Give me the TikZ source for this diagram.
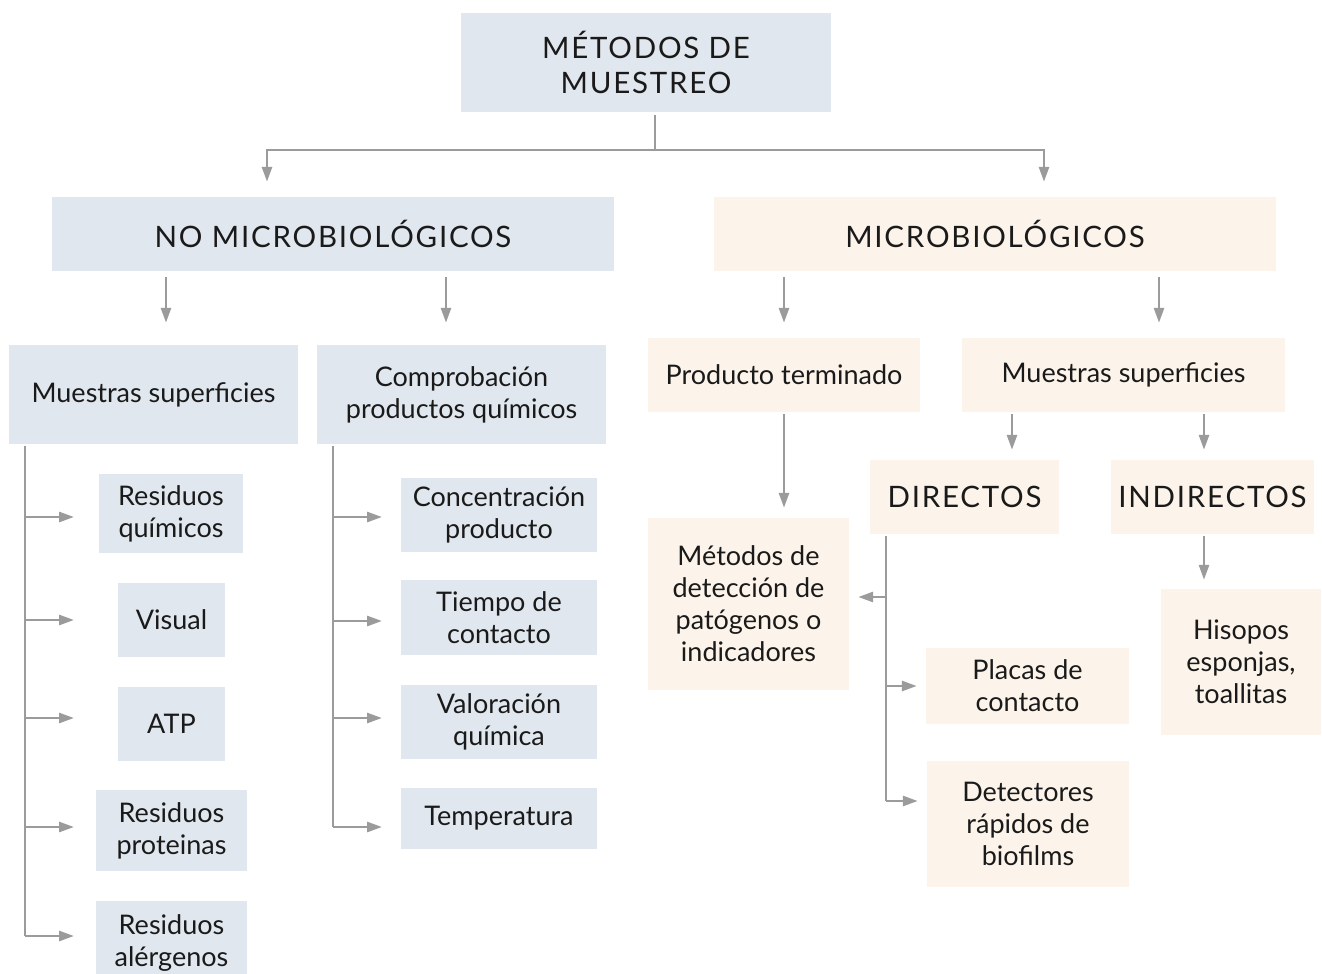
\documentclass[tikz,border=0pt]{standalone}
\usepackage{fontspec}
\setmainfont{Lato}
\newfontfamily\capsfont[LetterSpace=6]{Lato}
\usetikzlibrary{arrows.meta}

\definecolor{bluebox}{HTML}{E0E7EE}
\definecolor{creambox}{HTML}{FCF4EA}
\definecolor{linegray}{HTML}{9B9B9B}
\definecolor{inkgray}{HTML}{1A1A1A}

\tikzset{
  box/.style={inner sep=0pt, align=center, text=inkgray, font=\fontsize{27}{32}\selectfont},
  nobox/.style={box, fill=bluebox},
  sibox/.style={box, fill=creambox},
  headbox/.style={font=\capsfont\fontsize{29.5}{35}\selectfont},
  line/.style={draw=linegray, line width=2.7pt},
  arr/.style={line, -{Triangle[length=15pt,width=10pt]}},
}

\begin{document}
\begin{tikzpicture}[x=1pt, y=-1pt]
\useasboundingbox (0,0) rectangle (1322,974);
\clip (0,0) rectangle (1322,974);

% Top of the tree
\node[nobox, headbox, minimum width=370pt, minimum height=99pt] (top) at (646,62.5) {MÉTODOS DE\\MUESTREO};

% Two families
\node[nobox, headbox, minimum width=562pt, minimum height=74pt] (nomicro) at (333,234) {NO MICROBIOLÓGICOS};
\node[sibox, headbox, minimum width=562pt, minimum height=74pt] (micro) at (995,234) {MICROBIOLÓGICOS};

% Second level
\node[nobox, minimum width=289pt, minimum height=99pt] (msupL) at (153.5,394.5) {Muestras superficies};
\node[nobox, minimum width=289pt, minimum height=99pt] (comprob) at (461.5,394.5) {Comprobación\\productos químicos};
\node[sibox, minimum width=272pt, minimum height=74pt] (prodterm) at (784,375) {Producto terminado};
\node[sibox, minimum width=323pt, minimum height=74pt] (msupR) at (1123.5,375) {Muestras superficies};

% Left list (non microbiological surfaces)
\node[nobox, minimum width=144pt, minimum height=79pt] (resq) at (171,513.5) {Residuos\\químicos};
\node[nobox, minimum width=107pt, minimum height=74pt] (visual) at (171.5,620) {Visual};
\node[nobox, minimum width=107pt, minimum height=74pt] (atp) at (171.5,724) {ATP};
\node[nobox, minimum width=151pt, minimum height=81pt] (resprot) at (171.5,830.5) {Residuos\\proteinas};
\node[nobox, minimum width=151pt, minimum height=84pt] (resaler) at (171.5,943) {Residuos\\alérgenos};

% Middle list (chemical products)
\node[nobox, minimum width=196pt, minimum height=74pt] (conc) at (499,515) {Concentración\\producto};
\node[nobox, minimum width=196pt, minimum height=75pt] (tiempo) at (499,617.5) {Tiempo de\\contacto};
\node[nobox, minimum width=196pt, minimum height=74pt] (valor) at (499,722) {Valoración\\química};
\node[nobox, minimum width=196pt, minimum height=61pt] (temp) at (499,818.5) {Temperatura};

% Microbiological side
\node[sibox, minimum width=201pt, minimum height=172pt] (metodos) at (748.5,604) {Métodos de\\detección de\\patógenos o\\indicadores};
\node[sibox, headbox, minimum width=189pt, minimum height=74pt] (directos) at (964.5,497) {DIRECTOS};
\node[sibox, headbox, minimum width=203pt, minimum height=74pt] (indirectos) at (1212.5,497) {INDIRECTOS};
\node[sibox, minimum width=203pt, minimum height=76pt] (placas) at (1027.5,686) {Placas de\\contacto};
\node[sibox, minimum width=202pt, minimum height=126pt] (detect) at (1028,824) {Detectores\\rápidos de\\biofilms};
\node[sibox, minimum width=160pt, minimum height=146pt] (hisopos) at (1241,662) {Hisopos\\esponjas,\\toallitas};

% Tracks for the connectors
\coordinate (busL) at (267,150);
\coordinate (busR) at (1044,150);
\coordinate (trunk) at (655,0);
\coordinate (tMsupL) at (166,0);
\coordinate (tComp) at (446,0);
\coordinate (tMsupR) at (1159,0);
\coordinate (tDir) at (1012,0);
\coordinate (tInd) at (1204,0);
\coordinate (spineL) at (25,0);
\coordinate (tipL) at (74,0);
\coordinate (spineM) at (333,0);
\coordinate (tipM) at (382,0);
\coordinate (spineD) at (886,0);
\coordinate (rowMet) at (0,597);
\coordinate (rowDet) at (0,801);

% Top branches
\draw[arr, shorten <=3pt, shorten >=15pt] (top.south -| trunk) |- (busL) -- (busL |- nomicro.north);
\draw[arr, shorten <=3pt, shorten >=15pt] (top.south -| trunk) |- (busR) -- (busR |- micro.north);

% Family to second level
\draw[arr, shorten <=6pt, shorten >=22pt] (nomicro.south -| tMsupL) -- (msupL.north -| tMsupL);
\draw[arr, shorten <=6pt, shorten >=22pt] (nomicro.south -| tComp) -- (comprob.north -| tComp);
\draw[arr, shorten <=6pt, shorten >=15pt] (micro.south -| prodterm) -- (prodterm.north);
\draw[arr, shorten <=6pt, shorten >=15pt] (micro.south -| tMsupR) -- (msupR.north -| tMsupR);

% Left list
\draw[line, shorten <=2pt] (msupL.south -| spineL) -- ([yshift=7pt]spineL |- resaler);
\foreach \item/\dy in {resq/-3.5, visual/0, atp/6, resprot/3.5, resaler/7}
  \draw[arr] ([yshift=\dy pt]spineL |- \item) -- ([yshift=\dy pt]tipL |- \item);

% Middle list
\draw[line, shorten <=2pt] (comprob.south -| spineM) -- ([yshift=-8.5pt]spineM |- temp);
\foreach \item/\dy in {conc/-2, tiempo/-3.5, valor/4, temp/-8.5}
  \draw[arr] ([yshift=\dy pt]spineM |- \item) -- ([yshift=\dy pt]tipM |- \item);

% Microbiological connectors
\draw[arr, shorten <=2pt, shorten >=10pt] (prodterm.south) -- (prodterm.south |- metodos.north);
\draw[arr, shorten <=2pt, shorten >=10pt] (msupR.south -| tDir) -- (directos.north -| tDir);
\draw[arr, shorten <=2pt, shorten >=10pt] (msupR.south -| tInd) -- (indirectos.north -| tInd);
\draw[arr, shorten <=2pt, shorten >=9pt] (indirectos.south -| tInd) -- (hisopos.north -| tInd);
\draw[line, shorten <=2pt] (directos.south -| spineD) -- (spineD |- rowDet);
\draw[arr, shorten >=9pt] (spineD |- rowMet) -- (metodos.east |- rowMet);
\draw[arr, shorten >=9pt] (spineD |- placas) -- (placas.west);
\draw[arr, shorten >=9pt] (spineD |- rowDet) -- (detect.west |- rowDet);

\end{tikzpicture}
\end{document}
